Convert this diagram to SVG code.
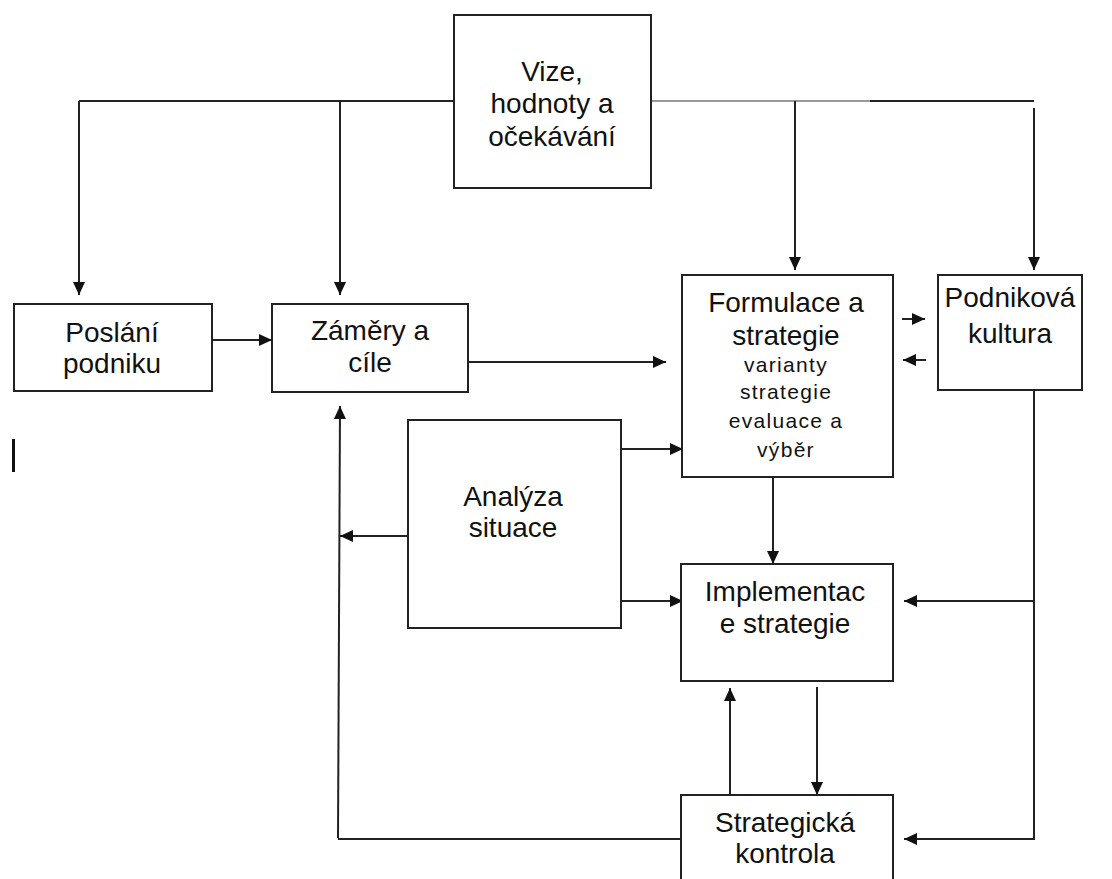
<svg xmlns="http://www.w3.org/2000/svg" width="1112" height="879" viewBox="0 0 1112 879">
<defs>
<marker id="ah" markerUnits="userSpaceOnUse" markerWidth="14" markerHeight="12" refX="13" refY="6" orient="auto">
<path d="M0,0 L13,6 L0,12 z" fill="#111"/>
</marker>
<style>
.box{fill:#fff;stroke:#222;stroke-width:2}
.t{font-family:"Liberation Sans",Arial,sans-serif;font-size:28px;fill:#111;text-anchor:middle}
.s{font-family:"Liberation Sans",Arial,sans-serif;font-size:21px;letter-spacing:1.3px;fill:#111;text-anchor:middle}
.c{fill:none;stroke:#222;stroke-width:2}
.a{fill:none;stroke:#222;stroke-width:2;marker-end:url(#ah)}
</style>
</defs>
<rect width="1112" height="879" fill="#fff"/>
<g id="connectors">
<polyline class="c" points="454,101 79,101"/>
<line class="a" x1="79" y1="101" x2="79" y2="295"/>
<line class="a" x1="340" y1="101" x2="340" y2="295"/>
<line x1="651" y1="101" x2="870" y2="101" stroke="#999" stroke-width="2"/>
<line class="c" x1="870" y1="101" x2="1034" y2="101"/>
<line class="a" x1="795" y1="101" x2="795" y2="270"/>
<line class="a" x1="1034" y1="108" x2="1034" y2="270"/>
<line class="a" x1="212" y1="340" x2="272" y2="340"/>
<line class="a" x1="468" y1="362" x2="666" y2="362"/>
<line class="a" x1="902" y1="319" x2="925" y2="319"/>
<line class="a" x1="926" y1="360" x2="903" y2="360"/>
<line class="a" x1="621" y1="449" x2="683" y2="449"/>
<line class="a" x1="621" y1="601" x2="683" y2="601"/>
<line class="a" x1="408" y1="536" x2="340" y2="536"/>
<line class="a" x1="338" y1="838" x2="340" y2="406"/>
<line class="c" x1="338" y1="839" x2="689" y2="839"/>
<line class="a" x1="773" y1="477" x2="773" y2="564"/>
<line class="a" x1="730" y1="795" x2="730" y2="688"/>
<line class="a" x1="817" y1="687" x2="817" y2="795"/>
<polyline class="a" points="1034,390 1034,839 904,839"/>
<line class="a" x1="1034" y1="601" x2="904" y2="601"/>
</g>
<g id="vize">
<rect class="box" x="454" y="15" width="197" height="173"/>
<text class="t" x="552" y="81">Vize,</text>
<text class="t" x="552" y="113">hodnoty a</text>
<text class="t" x="552" y="146">očekávání</text>
</g>
<g id="poslani">
<rect class="box" x="14" y="304" width="198" height="87"/>
<text class="t" x="112" y="342">Poslání</text>
<text class="t" x="112" y="373">podniku</text>
</g>
<g id="zamery">
<rect class="box" x="272" y="304" width="196" height="88"/>
<text class="t" x="370" y="340">Záměry a</text>
<text class="t" x="370" y="372">cíle</text>
</g>
<g id="formulace">
<rect class="box" x="682" y="275" width="211" height="202"/>
<text class="t" x="786" y="312">Formulace a</text>
<text class="t" x="786" y="345">strategie</text>
<text class="s" x="786" y="372">varianty</text>
<text class="s" x="786" y="399">strategie</text>
<text class="s" x="786" y="428">evaluace a</text>
<text class="s" x="786" y="457">výběr</text>
</g>
<g id="podnikova">
<rect class="box" x="938" y="275" width="144" height="115"/>
<text class="t" x="1010" y="307">Podniková</text>
<text class="t" x="1010" y="343">kultura</text>
</g>
<g id="analyza">
<rect class="box" x="408" y="420" width="213" height="208"/>
<text class="t" x="513" y="506">Analýza</text>
<text class="t" x="513" y="537">situace</text>
</g>
<g id="implementace">
<rect class="box" x="681" y="564" width="212" height="117"/>
<text class="t" x="785" y="601">Implementac</text>
<text class="t" x="785" y="633">e strategie</text>
</g>
<g id="kontrola">
<rect class="box" x="681" y="795" width="212" height="100"/>
<text class="t" x="785" y="832">Strategická</text>
<text class="t" x="785" y="863">kontrola</text>
</g>
<rect x="12" y="439" width="3" height="33" fill="#111"/>
</svg>
